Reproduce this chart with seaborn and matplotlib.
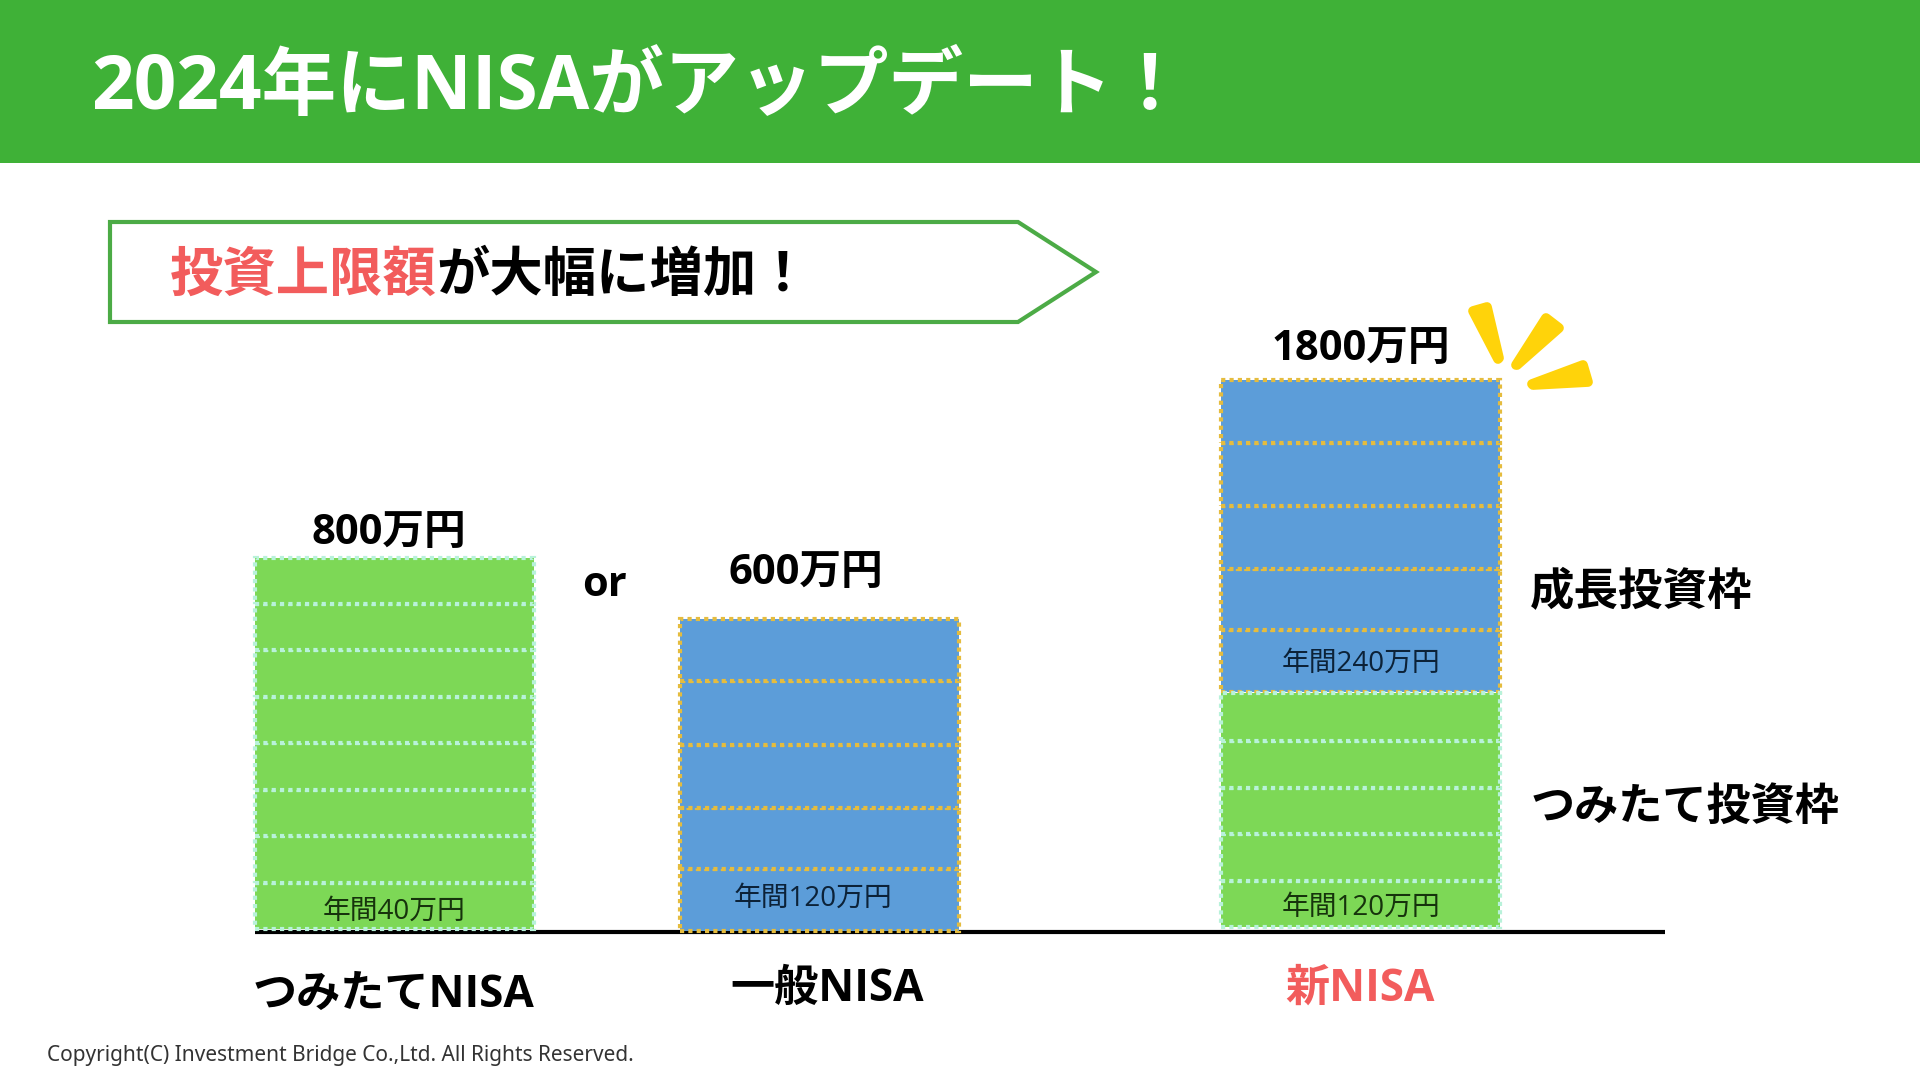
import pandas as pd
import matplotlib.pyplot as plt
import seaborn as sns

# chart values, segment heights are as measured on the slide
bar_names = ['つみたてNISA', '一般NISA', '新NISA']
bar_totals = ['800万円', '600万円', '1800万円']
tsumitate_segments = [46, 47, 46, 47, 46, 47, 46, 46]
ippan_segments = [62, 61, 63, 64, 62]
new_green_segments = [46, 47, 46, 47, 48]
new_blue_segments = [62, 61, 63, 63, 63]
annual_labels = ['年間40万円', '年間120万円', '年間240万円', '年間120万円']
frame_labels = ['成長投資枠', 'つみたて投資枠']

GREEN = '#7DD856'
MINT = '#B8F2DA'
BLUE = '#5C9DD9'
GOLD = '#E5BC3E'
HEADER = '#3FB137'
RED = '#F25C5C'
YELLOW = '#FFD30A'

sns.set_theme(style='white')
plt.rcParams['font.family'] = ['Open Sans', 'Noto Sans CJK JP', 'DejaVu Sans']

#Bars: one barplot per stacked segment
rows = []
for name, segs, color, edge, start in [
        (bar_names[0], tsumitate_segments, GREEN, MINT, 2),
        (bar_names[1], ippan_segments, BLUE, GOLD, 0),
        (bar_names[2], new_blue_segments, BLUE, GOLD, 239),
        (bar_names[2], new_green_segments, GREEN, MINT, 4)]:
    bottom = start
    for h in segs:
        rows.append({'bar': name, 'height': h, 'bottom': bottom, 'color': color, 'edge': edge})
        bottom += h
df = pd.DataFrame(rows)
centers = {bar_names[0]: 394.5, bar_names[1]: 819, bar_names[2]: 1360.5}
df['x'] = df['bar'].map(centers)

fig = plt.figure(figsize=(19.2, 10.8), dpi=100)
ax = fig.add_axes([0, 0, 1, 1])
ax.hlines(-1, 255, 1665, color='black', linewidth=3, zorder=0.5)
for _, row in df.iterrows():
    sns.barplot(x=[row['x']], y=[row['height']], native_scale=True, width=279, ax=ax,
                bottom=row['bottom'], color=row['color'], saturation=1, errorbar=None,
                edgecolor=row['edge'], linewidth=3, linestyle=(0, (1, 1)))
ax.set_xlim(0, 1920)
ax.set_ylim(-149, 931)
ax.axis('off')

#Slide decoration on a pixel axes
top = fig.add_axes([0, 0, 1, 1], facecolor='none')
top.set_xlim(0, 1920)
top.set_ylim(1080, 0)
top.axis('off')
top.fill([0, 1920, 1920, 0], [0, 0, 163, 163], color=HEADER, linewidth=0)
top.fill([110, 1018, 1096, 1018, 110], [222, 222, 272, 322, 322],
         facecolor='white', edgecolor='#4CAB46', linewidth=3)
for ray in ([(1473, 311), (1487, 307), (1499, 358), (1498, 359)],
            [(1546, 318), (1559, 328), (1517, 365), (1516, 365)],
            [(1583, 365), (1588, 382), (1533, 385), (1532, 384)]):
    top.fill(*zip(*ray), facecolor=YELLOW, edgecolor=YELLOW, linewidth=7, joinstyle='round')

top.text(91, 90, '2024年にNISAがアップデート！', color='white', fontsize=53.8, fontweight='bold',
         va='center', ha='left')
top.text(170, 277, '投資上限額', color=RED, fontsize=38.4, fontweight='bold', va='center', ha='left')
top.text(436, 277, 'が大幅に増加！', color='black', fontsize=38.4, fontweight='bold', va='center', ha='left')

for label, x, y in zip(bar_totals, [389, 806, 1361], [533, 574, 349]):
    top.text(x, y, label, color='black', fontsize=30, fontweight='bold', ha='center', va='center')
top.text(604, 586, 'or', color='black', fontsize=30, fontweight='bold', ha='center', va='center')

for label, x, y, color in zip(annual_labels, [394, 813, 1361, 1361], [912, 899, 664, 908],
                              ['#16330c', '#0c2238', '#0c2238', '#16330c']):
    top.text(x, y, label, color=color, fontsize=20, ha='center', va='center')

for label, x, y, color in zip(bar_names, [394, 827, 1360], [995, 989, 989], ['black', 'black', RED]):
    top.text(x, y, label, color=color, fontsize=31.8, fontweight='bold', ha='center', va='center')

top.text(1530, 594, frame_labels[0], color='black', fontsize=32, fontweight='bold', ha='left', va='center')
top.text(1531, 808, frame_labels[1], color='black', fontsize=31.8, fontweight='bold', ha='left', va='center')

top.text(47, 1056, 'Copyright(C) Investment Bridge Co.,Ltd. All Rights Reserved.', color='#333333',
         fontsize=15, family=['Noto Sans', 'DejaVu Sans'], ha='left', va='center')

fig.savefig('out.png', dpi=100)
